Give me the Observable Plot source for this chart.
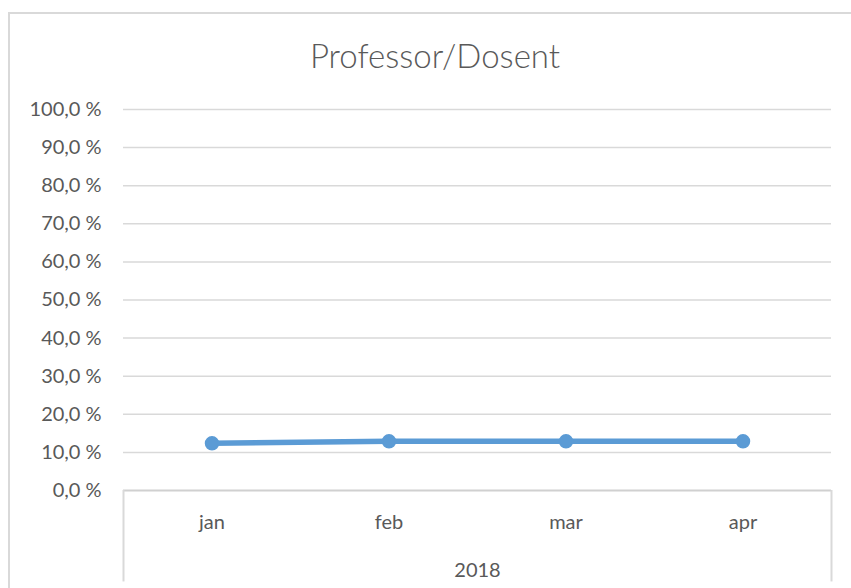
<!DOCTYPE html>
<html>
<head>
<meta charset="utf-8">
<script src="https://cdn.jsdelivr.net/npm/d3@7"></script>
<script src="https://cdn.jsdelivr.net/npm/@observablehq/plot@0.6"></script>
<style>
  html, body { margin: 0; padding: 0; background: #fff; }
  #wrap { position: relative; width: 851px; height: 588px; overflow: hidden; }
  #box { position: absolute; left: 8px; top: 12px; right: -10px; bottom: -10px;
         border-left: 2px solid #d9d9d9; border-top: 2px solid #d9d9d9; }
  #title { position: absolute; left: 0; top: 35px; width: 870px; text-align: center;
           font-family: Lato, "Open Sans", sans-serif; font-weight: 300; font-size: 33px; color: #595959; }
  #chart { position: absolute; left: 0; top: 0; }
  #chart text { font-weight: 400; }
</style>
</head>
<body>
<div id="wrap">
  <div id="box"></div>
  <div id="title">Professor/Dosent</div>
  <div id="chart"></div>
</div>
<script>
const titleText = "Professor/Dosent";
const months = ["jan", "feb", "mar", "apr"];
const values = [0.124, 0.129, 0.129, 0.129];
const yearLabel = "2018";
const yTicks = [0, 0.1, 0.2, 0.3, 0.4, 0.5, 0.6, 0.7, 0.8, 0.9, 1.0];

const data = months.map((m, i) => ({month: m, value: values[i]}));
const fmt = d => d3.format(".1f")(d * 100).replace(".", ",") + "\u202F%";

const grid = "#d9d9d9";
const textColor = "#595959";
const blue = "#5B9BD5";

const chart = Plot.plot({
  width: 851,
  height: 588,
  marginLeft: 123,
  marginRight: 20,
  marginTop: 109,
  marginBottom: 98,
  style: {fontFamily: "Lato, 'Open Sans', sans-serif", fontSize: "20px", color: textColor, background: "transparent"},
  x: {type: "band", domain: months, padding: 0},
  y: {domain: [0, 1]},
  marks: [
    Plot.ruleY(yTicks.slice(1), {stroke: grid, strokeWidth: 1.5}),
    Plot.ruleY([0], {stroke: "#d0d0d0", strokeWidth: 2}),
    Plot.ruleX([months[0]], {x: d => d, y1: 0, y2: -0.24, dx: -88.5, stroke: grid, strokeWidth: 2}),
    Plot.ruleX([months[months.length - 1]], {x: d => d, y1: 0, y2: -0.24, dx: 88.5, stroke: grid, strokeWidth: 2}),
    Plot.axisY({ticks: yTicks, tickFormat: fmt, tickSize: 0, tickPadding: 22, fontSize: 20, label: null}),
    Plot.axisX({tickSize: 0, tickPadding: 24, fontSize: 20, label: yearLabel, labelAnchor: "center", labelOffset: 86, labelArrow: "none"}),
    Plot.lineY(data, {x: "month", y: "value", stroke: blue, strokeWidth: 5.5, strokeLinecap: "round"}),
    Plot.dot(data, {x: "month", y: "value", r: 6.5, fill: blue, stroke: blue})
  ]
});
document.getElementById("chart").appendChild(chart);
document.getElementById("title").textContent = titleText;
</script>
</body>
</html>
